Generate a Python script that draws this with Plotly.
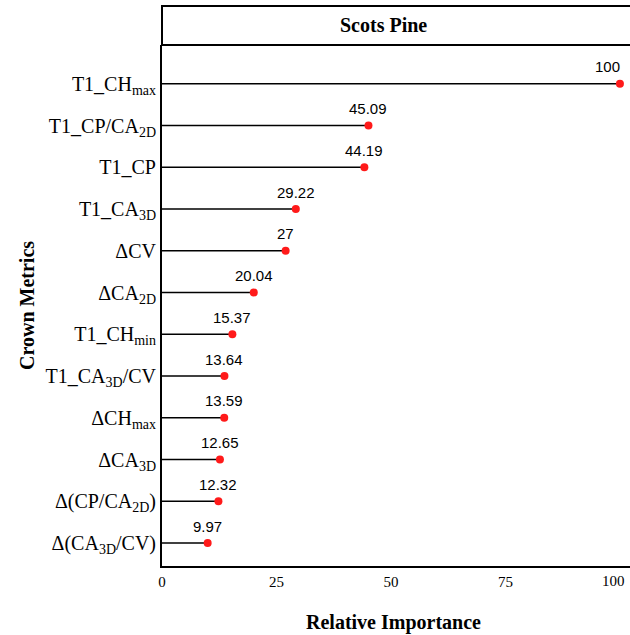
import plotly.graph_objects as go

# Crown metrics, listed bottom to top
metrics = [
    "Δ(CA<sub>3D</sub>/CV)",
    "Δ(CP/CA<sub>2D</sub>)",
    "ΔCA<sub>3D</sub>",
    "ΔCH<sub>max</sub>",
    "T1_CA<sub>3D</sub>/CV",
    "T1_CH<sub>min</sub>",
    "ΔCA<sub>2D</sub>",
    "ΔCV",
    "T1_CA<sub>3D</sub>",
    "T1_CP",
    "T1_CP/CA<sub>2D</sub>",
    "T1_CH<sub>max</sub>",
]
importance = [9.97, 12.32, 12.65, 13.59, 13.64, 15.37, 20.04, 27, 29.22, 44.19, 45.09, 100]
x_ticks = [0, 25, 50, 75, 100]
panel_title = "Scots Pine"

serif = "Liberation Serif, Times New Roman, serif"
sans = "Liberation Sans, Arial, Helvetica, sans-serif"

# stems from 0 to each value
stem_x, stem_y = [], []
for m, v in zip(metrics, importance):
    stem_x += [0, v, None]
    stem_y += [m, m, None]

fig = go.Figure()
fig.add_trace(go.Scatter(
    x=stem_x, y=stem_y, mode="lines",
    line=dict(color="black", width=1.4),
    hoverinfo="skip", showlegend=False,
))
fig.add_trace(go.Scatter(
    x=importance, y=metrics, mode="markers",
    marker=dict(color="#ff1a1a", size=8),
    showlegend=False,
))

annotations = []
top = max(importance)
for m, v in zip(metrics, importance):
    annotations.append(dict(
        x=v, y=m, xref="x", yref="y",
        text=f"{v:g}", showarrow=False,
        xanchor="center", yanchor="middle",
        yshift=17, xshift=-12 if v == top else 0,
        font=dict(family=sans, size=15, color="black"),
    ))

# the last tick label sits at the canvas edge, so it is drawn nudged inward
last_tick = x_ticks[-1]
annotations.append(dict(
    x=last_tick, y=-0.0288, xref="x", yref="paper",
    xanchor="center", yanchor="middle", xshift=-6,
    text=str(last_tick), showarrow=False,
    font=dict(family=serif, size=15, color="black"),
))

# facet strip title
annotations.append(dict(
    x=0.474, y=1.0375, xref="paper", yref="paper",
    xanchor="center", yanchor="middle",
    text=f"<b>{panel_title}</b>", showarrow=False,
    font=dict(family=serif, size=20, color="black"),
))
# axis titles
annotations.append(dict(
    x=0.494, y=-0.1075, xref="paper", yref="paper",
    xanchor="center", yanchor="middle",
    text="<b>Relative Importance</b>", showarrow=False,
    font=dict(family=serif, size=20, color="black"),
))
annotations.append(dict(
    x=-0.2885, y=0.501, xref="paper", yref="paper",
    xanchor="center", yanchor="middle",
    text="<b>Crown Metrics</b>", showarrow=False, textangle=-90,
    font=dict(family=serif, size=20, color="black"),
))

fig.update_layout(
    width=630, height=635,
    margin=dict(l=162, r=0, t=45, b=69),
    paper_bgcolor="white", plot_bgcolor="white",
    annotations=annotations,
    shapes=[dict(
        type="rect", xref="paper", yref="paper", layer="below",
        x0=0, x1=1.05, y0=1, y1=1.0749,
        line=dict(color="black", width=2), fillcolor="white",
    )],
    xaxis=dict(
        range=[0, 102.2], tickvals=x_ticks[:-1],
        ticktext=[str(t) for t in x_ticks[:-1]],
        showgrid=False, zeroline=False, showline=True,
        linecolor="black", linewidth=2,
        ticks="outside", ticklen=1, tickcolor="rgba(0,0,0,0)",
        tickfont=dict(family=serif, size=15, color="black"),
    ),
    yaxis=dict(
        type="category", categoryorder="array", categoryarray=metrics,
        range=[-0.551, 11.93],
        showgrid=False, zeroline=False, showline=True,
        linecolor="black", linewidth=2,
        ticks="", tickfont=dict(family=serif, size=20, color="black"),
    ),
)

fig.write_html("out.html")
